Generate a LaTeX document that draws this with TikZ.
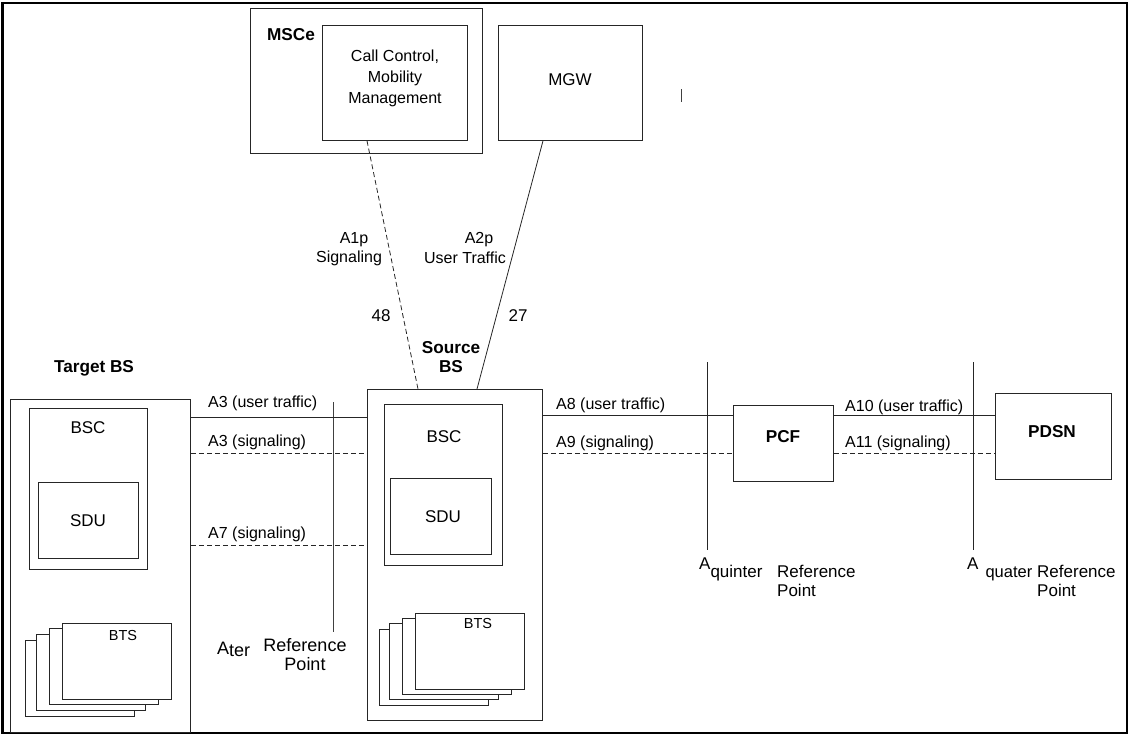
\documentclass[tikz,border=0pt]{standalone}
\usepackage{fontspec}
\setmainfont{Liberation Sans}
\begin{document}
\begin{tikzpicture}[x=1pt,y=-1pt,
  box/.style={draw=black!85, line width=0.8pt, inner sep=0pt, anchor=north west},
  btsbox/.style={box, fill=white, minimum width=109pt, minimum height=76pt},
  lbl/.style={font=\fontsize{16}{19}\selectfont, inner sep=0pt},
  ttl/.style={font=\fontsize{17.2}{19}\selectfont\bfseries, inner sep=0pt, align=center},
  inl/.style={font=\fontsize{17}{19}\selectfont, inner sep=0pt},
  refl/.style={font=\fontsize{17}{19}\selectfont, inner sep=0pt},
  conn/.style={line width=0.8pt, draw=black!85},
  dconn/.style={line width=0.8pt, draw=black!85, dash pattern=on 5pt off 3pt},
  refline/.style={line width=0.9pt, draw=black!75}]
\useasboundingbox (0,0) rectangle (1130,736);
% frame
\draw[line width=1.6pt] (2,3) rectangle (1127,733);
\draw[line width=1pt] (3.8,3) -- (3.8,733);

% MSCe
\node[box, minimum width=232pt, minimum height=145pt] (msce) at (250,8) {};
\node[ttl] (mscel) at (291,35) {MSCe};
\node[box, minimum width=145pt, minimum height=115pt] (cc) at (322,25) {};
\node[inl, align=center, font=\fontsize{16}{21}\selectfont] (cct) at (395,78) {Call Control,\\Mobility\\Management};
% MGW
\node[box, minimum width=144pt, minimum height=115pt] (mgw) at (498,25) {};
\node[inl] (mgwt) at (570,80) {MGW};
\coordinate (tickA) at (681,89);
\coordinate (tickB) at (681,102);
\draw[line width=1pt, black!75] (tickA) -- (tickB);

% Target BS
\node[ttl] (tbsl) at (94,368) {Target BS};
\node[box, minimum width=180pt, minimum height=333pt] (target) at (10,399) {};
\node[box, minimum width=118pt, minimum height=161pt] (tbsc) at (29,408) {};
\node[inl] (tbscl) at (88,428) {BSC};
\node[box, minimum width=100pt, minimum height=76pt] (tsdu) at (38,482) {};
\node[inl] (tsdul) at (88,521) {SDU};
\node[btsbox] (tbts4) at (25,640) {};
\node[btsbox] (tbts3) at (36,634) {};
\node[btsbox] (tbts2) at (49,628) {};
\node[btsbox] (tbts1) at (62,623) {};
\node[lbl, font=\fontsize{14.5}{17}\selectfont] (tbtsl) at (123,636) {BTS};

% Source BS
\node[ttl] (sbsl) at (451,357.5) {Source\\BS};
\node[box, minimum width=175pt, minimum height=331pt] (source) at (367,389) {};
\node[box, minimum width=118pt, minimum height=161pt] (sbsc) at (384,404) {};
\node[inl] (sbscl) at (444,437) {BSC};
\node[box, minimum width=101pt, minimum height=76pt] (ssdu) at (390,478) {};
\node[inl] (ssdul) at (443,517) {SDU};
\node[btsbox] (sbts4) at (379,629) {};
\node[btsbox] (sbts3) at (389,623) {};
\node[btsbox] (sbts2) at (402,618) {};
\node[btsbox] (sbts1) at (415,613) {};
\node[lbl, font=\fontsize{14.5}{17}\selectfont] (sbtsl) at (478,624) {BTS};

% PCF, PDSN
\node[box, minimum width=100pt, minimum height=76pt] (pcf) at (733,405) {};
\node[ttl] (pcfl) at (783,437) {PCF};
\node[box, minimum width=116pt, minimum height=86pt] (pdsn) at (995,393) {};
\node[ttl] (pdsnl) at (1052,432) {PDSN};

% A1p / A2p
\draw[dconn] ([xshift=45pt]cc.south west) -- ([xshift=51pt]source.north west);
\draw[conn] ([xshift=45pt]mgw.south west) -- ([xshift=110pt]source.north west);
\node[lbl] (a1p) at (354,240) {A1p};
\node[lbl] (a1ps) at (349,258) {Signaling};
\node[lbl] (a2p) at (479,240) {A2p};
\node[lbl] (a2pu) at (465,258) {User Traffic};
\node[inl] (n48) at (381,316) {48};
\node[inl] (n27) at (518,316) {27};

% reference lines
\coordinate (aterT) at (333,402);
\coordinate (aterB) at (333,632);
\coordinate (aquiT) at (707,362);
\coordinate (aquiB) at (707,550);
\coordinate (aquaT) at (973,362);
\coordinate (aquaB) at (973,550);
\draw[refline] (aterT) -- (aterB);
\draw[conn] (aquiT) -- (aquiB);
\draw[conn] (aquaT) -- (aquaB);

% horizontal interfaces
\coordinate (yu) at (0,417);
\coordinate (ys) at (0,453);
\coordinate (y7) at (0,545);
\coordinate (yu2) at (0,415);
\draw[conn] (target.east |- yu) -- (source.west |- yu);
\draw[dconn] (target.east |- ys) -- (source.west |- ys);
\draw[dconn] (target.east |- y7) -- (source.west |- y7);
\draw[conn] (source.east |- yu2) -- (pcf.west |- yu2);
\draw[dconn] (source.east |- ys) -- (pcf.west |- ys);
\draw[conn] (pcf.east |- yu2) -- (pdsn.west |- yu2);
\draw[dconn] (pcf.east |- ys) -- (pdsn.west |- ys);

\node[lbl, anchor=west] (la3u) at (208,403) {A3 (user traffic)};
\node[lbl, anchor=west] (la3s) at (208,442) {A3 (signaling)};
\node[lbl, anchor=west] (la7s) at (208,534) {A7 (signaling)};
\node[lbl, anchor=west] (la8u) at (556,405) {A8 (user traffic)};
\node[lbl, anchor=west] (la9s) at (556,443) {A9 (signaling)};
\node[lbl, anchor=west] (la10u) at (845,407) {A10 (user traffic)};
\node[lbl, anchor=west] (la11s) at (845,443) {A11 (signaling)};

% reference point labels
\node[refl, anchor=west, font=\fontsize{18}{19}\selectfont] (ater) at (217,649) {A\raisebox{-2pt}{ter}};
\node[refl, align=center, font=\fontsize{18}{19}\selectfont] (aterr) at (305,654.5) {Reference\\Point};
\node[refl, anchor=base west] (aqui) at (699,569) {A\raisebox{-8pt}{quinter}};
\node[refl, anchor=base west, align=left] (aquir) at (777,596) {Reference\\Point};
\node[refl, anchor=base west] (aqua) at (967,569) {A\hspace{7pt}\raisebox{-8pt}{\fontsize{16.5}{19}\selectfont quater}};
\node[refl, anchor=base west, align=left] (aquar) at (1037,596) {Reference\\Point};
\end{tikzpicture}
\end{document}
